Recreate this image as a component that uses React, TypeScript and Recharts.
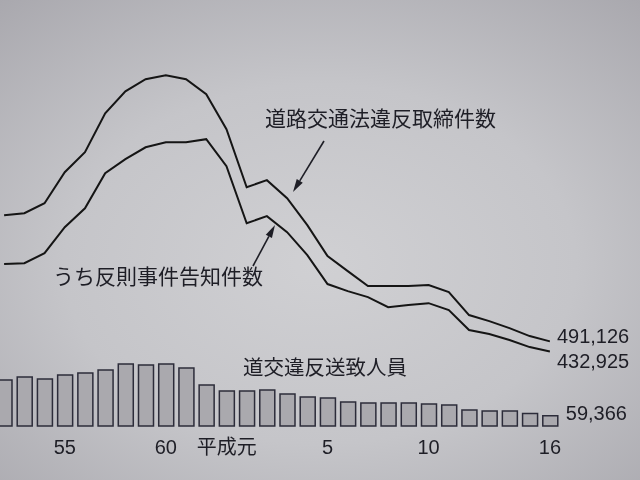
import { Bar, ComposedChart, LabelList, Line, XAxis, YAxis } from "recharts";

// 昭和52年〜平成16年
const categories = [
  "S52", "S53", "S54", "S55", "S56", "S57", "S58", "S59", "S60", "S61", "S62", "S63",
  "H1", "H2", "H3", "H4", "H5", "H6", "H7", "H8", "H9", "H10", "H11", "H12", "H13", "H14", "H15", "H16",
];

// 道路交通法違反取締件数
const violations = [
  1224000, 1235000, 1293000, 1473000, 1589000, 1815000, 1943000, 2013000, 2036000, 2013000,
  1926000, 1723000, 1386000, 1427000, 1322000, 1166000, 986000, 899000, 812000, 812000,
  812000, 818000, 777000, 644000, 609000, 568000, 522000, 491126,
];

// うち反則事件告知件数
const notices = [
  940000, 945000, 1003000, 1154000, 1264000, 1467000, 1549000, 1618000, 1647000, 1647000,
  1665000, 1508000, 1177000, 1218000, 1125000, 992000, 824000, 783000, 748000, 690000,
  702000, 713000, 673000, 557000, 534000, 499000, 458000, 432925,
];

// 道交違反送致人員
const referrals = [
  267000, 284000, 273000, 296000, 307000, 325000, 360000, 354000, 360000, 336000,
  238000, 203000, 203000, 209000, 186000, 168000, 162000, 139000, 133000, 133000,
  133000, 128000, 122000, 93000, 87000, 87000, 73000, 59366,
];

const tickLabels: Record<string, string> = {
  S55: "55",
  S60: "60",
  H1: "平成元",
  H5: "5",
  H10: "10",
  H16: "16",
};

const data = categories.map((c, i) => ({
  c,
  violations: violations[i],
  notices: notices[i],
  referrals: referrals[i],
}));

const FONT = "'Liberation Sans', 'Noto Sans CJK JP', sans-serif";
const INK = "#1e1e26";
const last = categories.length - 1;

function YearTick(props: any) {
  const { x, y, payload } = props;
  const label = tickLabels[payload.value];
  if (!label) return null;
  const wide = label.length > 2;
  return (
    <text
      x={wide ? x + 10 : x}
      y={y + 28}
      textAnchor={wide ? "end" : "middle"}
      fill={INK}
      fontSize={20}
      fontFamily={FONT}
    >
      {label}
    </text>
  );
}

function EndLabel(dy: number) {
  return (props: any) => {
    const { x, y, index, value } = props;
    if (index !== last) return null;
    return (
      <text x={x + 7} y={y + dy} fill={INK} fontSize={20} fontFamily={FONT}>
        {Number(value).toLocaleString("en-US")}
      </text>
    );
  };
}

function BarEndLabel(props: any) {
  const { x, y, width, index, value } = props;
  if (index !== last) return null;
  return (
    <text x={x + width + 8} y={y + 4} fill={INK} fontSize={20} fontFamily={FONT}>
      {Number(value).toLocaleString("en-US")}
    </text>
  );
}

function Arrow({ x1, y1, x2, y2 }: { x1: number; y1: number; x2: number; y2: number }) {
  const a = Math.atan2(y2 - y1, x2 - x1);
  const len = 13;
  const half = 3.5;
  const bx = x2 - len * Math.cos(a);
  const by = y2 - len * Math.sin(a);
  const px = -Math.sin(a) * half;
  const py = Math.cos(a) * half;
  return (
    <g>
      <line x1={x1} y1={y1} x2={bx} y2={by} stroke={INK} strokeWidth={1.6} />
      <polygon points={`${x2},${y2} ${bx + px},${by + py} ${bx - px},${by - py}`} fill={INK} />
    </g>
  );
}

export default function App() {
  return (
    <div
      style={{
        position: "fixed",
        left: 0,
        top: 0,
        width: 640,
        height: 480,
        overflow: "hidden",
        background:
          "radial-gradient(ellipse 80% 75% at 50% 55%, #d0d0d3 0%, #c5c5c9 50%, #a7a6ac 100%)",
      }}
    >
      <div style={{ position: "absolute", left: -6, top: 0 }}>
        <ComposedChart
          width={656}
          height={480}
          data={data}
          margin={{ top: 47, right: 90, left: 0, bottom: 0 }}
        >
          <XAxis
            dataKey="c"
            axisLine={false}
            tickLine={false}
            tickSize={0}
            tickMargin={0}
            interval={0}
            height={54}
            tick={<YearTick />}
          />
          <YAxis hide domain={[0, 2200000]} />
          <Bar
            dataKey="referrals"
            barSize={15}
            fill="#aaa9ae"
            stroke="#2c2c3a"
            strokeWidth={1.5}
            isAnimationActive={false}
          >
            <LabelList dataKey="referrals" content={BarEndLabel} />
          </Bar>
          <Line
            dataKey="violations"
            type="linear"
            stroke="#151515"
            strokeWidth={2}
            dot={false}
            isAnimationActive={false}
            label={EndLabel(2)}
          />
          <Line
            dataKey="notices"
            type="linear"
            stroke="#151515"
            strokeWidth={2}
            dot={false}
            isAnimationActive={false}
            label={EndLabel(17)}
          />
        </ComposedChart>
      </div>
      <svg
        width={640}
        height={480}
        style={{ position: "absolute", left: 0, top: 0, pointerEvents: "none" }}
        fontFamily={FONT}
        fill={INK}
      >
        <text x={265} y={126} fontSize={21}>
          道路交通法違反取締件数
        </text>
        <Arrow x1={324} y1={141} x2={293} y2={192} />
        <text x={53} y={284} fontSize={21}>
          うち反則事件告知件数
        </text>
        <Arrow x1={253} y1={266} x2={275} y2={225} />
        <text x={243} y={375} fontSize={20.5}>
          道交違反送致人員
        </text>
      </svg>
    </div>
  );
}
